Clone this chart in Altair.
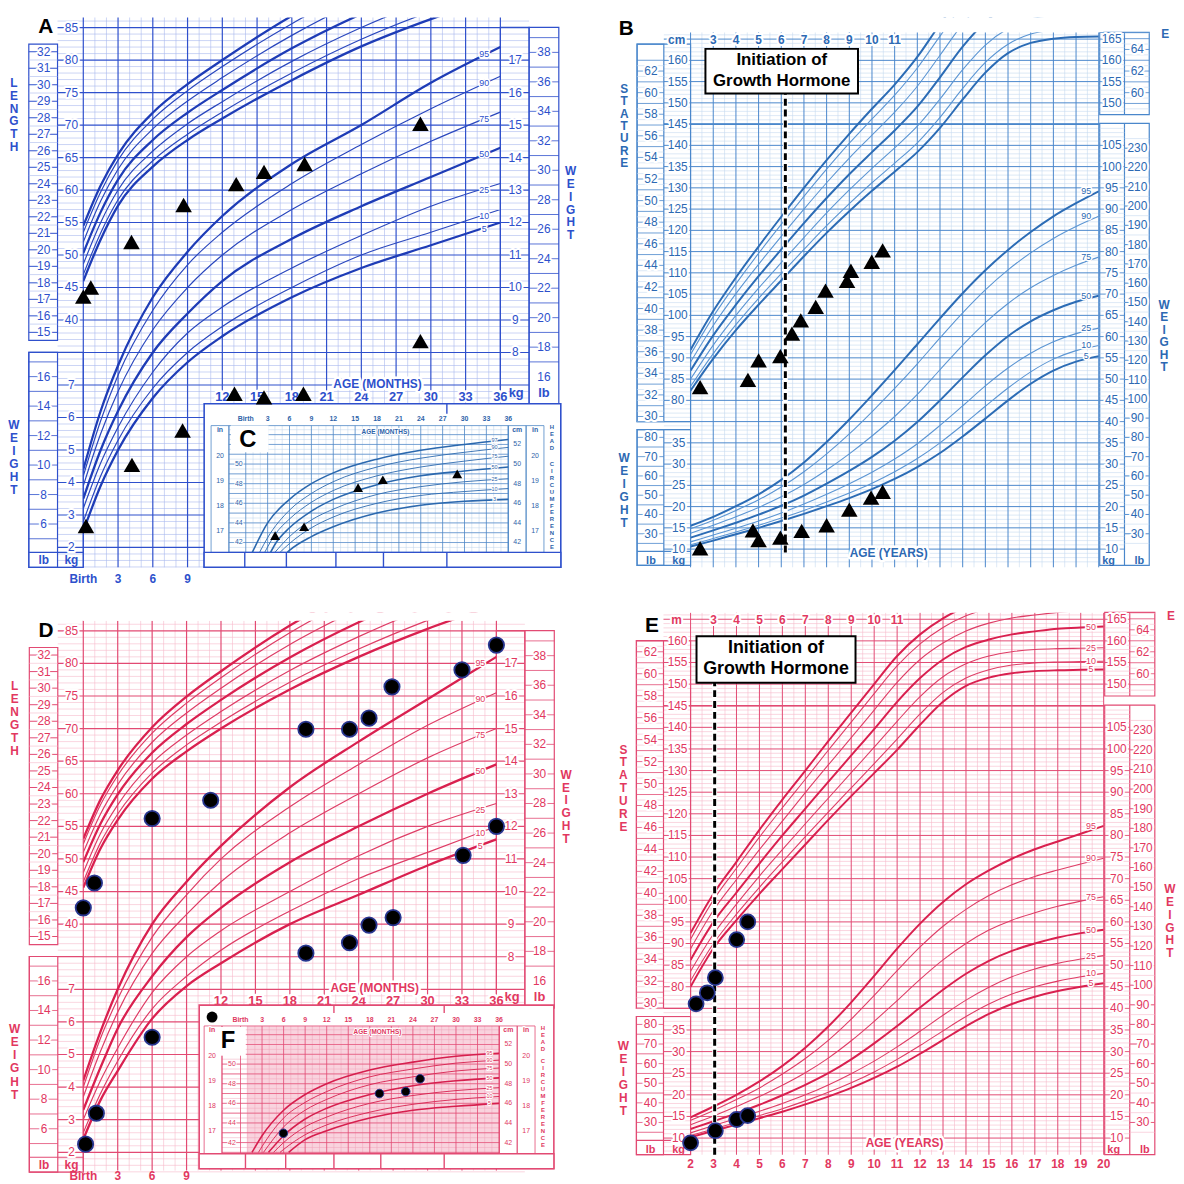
import altair as alt
import numpy as np
import pandas as pd

FONT = "Liberation Sans"

# ------------------------------------------------------------------
# Percentile curves
# ------------------------------------------------------------------
PCT = [5, 10, 25, 50, 75, 90, 95]
THICK = (5, 50, 95)

INF_AGE = [0, 1.5, 3, 6, 9, 12, 18, 24, 30, 36]  # months
BOY_LEN = {
    5:  [46.0, 52.4, 57.6, 63.6, 67.7, 71.0, 76.9, 82.1, 86.3, 89.9],
    10: [47.0, 53.4, 58.5, 64.5, 68.6, 72.0, 78.0, 83.2, 87.5, 91.1],
    25: [48.6, 55.0, 60.0, 66.0, 70.2, 73.6, 79.8, 85.0, 89.4, 93.1],
    50: [50.3, 56.6, 61.6, 67.7, 71.9, 75.4, 81.8, 87.1, 91.6, 95.3],
    75: [52.0, 58.3, 63.2, 69.4, 73.7, 77.3, 83.8, 89.3, 93.9, 97.6],
    90: [53.5, 59.7, 64.6, 70.9, 75.3, 79.0, 85.6, 91.2, 95.8, 99.6],
    95: [54.5, 60.7, 65.5, 71.9, 76.3, 80.0, 86.8, 92.4, 97.0, 100.9],
}
BOY_WT = {
    5:  [2.5, 3.9, 5.0, 6.6, 7.7, 8.5, 9.7, 10.6, 11.3, 12.0],
    10: [2.8, 4.2, 5.3, 6.9, 8.0, 8.8, 10.0, 11.0, 11.7, 12.4],
    25: [3.2, 4.6, 5.7, 7.4, 8.6, 9.4, 10.6, 11.6, 12.5, 13.2],
    50: [3.5, 5.0, 6.2, 8.0, 9.2, 10.2, 11.5, 12.5, 13.4, 14.3],
    75: [3.9, 5.5, 6.8, 8.7, 10.0, 11.0, 12.4, 13.5, 14.5, 15.4],
    90: [4.2, 5.9, 7.3, 9.3, 10.7, 11.7, 13.2, 14.4, 15.5, 16.5],
    95: [4.4, 6.2, 7.6, 9.7, 11.1, 12.2, 13.8, 15.0, 16.3, 17.4],
}
GIRL_LEN = {
    5:  [45.6, 51.6, 56.0, 62.3, 66.5, 70.0, 76.0, 81.0, 85.3, 89.0],
    10: [46.5, 52.5, 56.9, 63.2, 67.5, 71.0, 77.1, 82.2, 86.6, 90.4],
    25: [47.9, 53.9, 58.3, 64.7, 69.0, 72.6, 78.9, 84.1, 88.6, 92.5],
    50: [49.5, 55.4, 59.9, 66.3, 70.7, 74.4, 80.9, 86.3, 90.9, 94.9],
    75: [51.0, 56.9, 61.4, 67.9, 72.4, 76.2, 82.9, 88.4, 93.2, 97.3],
    90: [52.3, 58.3, 62.8, 69.3, 73.9, 77.8, 84.7, 90.4, 95.3, 99.5],
    95: [53.1, 59.1, 63.6, 70.2, 74.9, 78.8, 85.8, 91.6, 96.6, 100.8],
}
GIRL_WT = {
    5:  [2.4, 3.6, 4.5, 6.1, 7.1, 7.8, 9.0, 9.9, 10.8, 11.6],
    10: [2.6, 3.8, 4.8, 6.4, 7.4, 8.2, 9.4, 10.4, 11.2, 12.0],
    25: [3.0, 4.2, 5.2, 6.9, 8.0, 8.8, 10.0, 11.1, 12.0, 12.7],
    50: [3.3, 4.6, 5.8, 7.4, 8.6, 9.5, 10.9, 12.0, 13.0, 13.9],
    75: [3.7, 5.1, 6.3, 8.1, 9.3, 10.3, 11.8, 13.0, 14.1, 15.0],
    90: [4.0, 5.5, 6.7, 8.6, 9.9, 11.0, 12.6, 13.9, 15.1, 16.1],
    95: [4.2, 5.7, 7.0, 9.0, 10.3, 11.4, 13.2, 14.6, 15.9, 17.2],
}

CH_AGE = [2, 3, 4, 5, 6, 7, 8, 9, 10, 11, 12, 13, 14, 15, 16, 17, 18, 19, 20]  # years
BOY_STAT = {
    5:  [82.3, 89.8, 96.5, 102.5, 108.2, 113.9, 119.4, 124.5, 129.3, 133.8, 138.4, 144.1, 150.8, 157.1, 161.7, 164.1, 165.1, 165.5, 165.6],
    10: [83.3, 91.0, 97.8, 104.0, 109.8, 115.5, 121.1, 126.3, 131.2, 135.8, 140.6, 146.6, 153.4, 159.5, 163.8, 166.2, 167.2, 167.6, 167.7],
    25: [85.0, 93.0, 100.0, 106.4, 112.4, 118.3, 124.1, 129.5, 134.6, 139.4, 144.5, 150.9, 157.8, 163.6, 167.5, 169.7, 170.6, 171.0, 171.1],
    50: [87.0, 95.3, 102.5, 109.2, 115.5, 121.7, 127.6, 133.2, 138.4, 143.5, 149.1, 156.0, 163.2, 169.0, 173.0, 175.2, 176.1, 176.5, 176.8],
    75: [89.0, 97.6, 105.1, 112.0, 118.6, 125.0, 131.2, 137.0, 142.4, 147.8, 153.9, 161.2, 168.5, 174.2, 177.8, 179.9, 180.9, 181.3, 181.5],
    90: [90.8, 99.7, 107.4, 114.6, 121.4, 128.0, 134.4, 140.5, 146.2, 151.8, 158.2, 165.7, 172.9, 178.3, 181.8, 183.9, 184.8, 185.2, 185.4],
    95: [91.9, 101.0, 108.9, 116.2, 123.2, 130.0, 136.5, 142.7, 148.6, 154.3, 160.8, 168.5, 175.6, 180.8, 184.2, 186.2, 187.1, 187.5, 187.7],
}
BOY_WT2 = {
    5:  [10.6, 12.0, 13.5, 15.0, 16.6, 18.3, 20.1, 22.0, 24.1, 26.5, 29.3, 32.6, 36.5, 40.7, 45.0, 48.9, 52.0, 54.1, 55.4],
    10: [11.0, 12.5, 14.0, 15.6, 17.3, 19.1, 21.1, 23.2, 25.5, 28.2, 31.3, 35.0, 39.2, 43.6, 47.9, 51.7, 54.7, 56.7, 57.9],
    25: [11.7, 13.3, 14.9, 16.6, 18.5, 20.6, 22.9, 25.4, 28.1, 31.2, 34.8, 39.1, 43.7, 48.4, 52.6, 56.1, 58.8, 60.7, 62.0],
    50: [12.7, 14.4, 16.2, 18.1, 20.2, 22.6, 25.4, 28.4, 31.7, 35.5, 39.9, 45.0, 50.4, 55.6, 60.1, 63.6, 66.2, 68.2, 69.6],
    75: [13.7, 15.6, 17.6, 19.8, 22.3, 25.2, 28.6, 32.4, 36.6, 41.2, 46.4, 52.2, 58.0, 63.3, 67.8, 71.5, 74.4, 76.8, 78.7],
    90: [14.8, 16.8, 19.1, 21.6, 24.6, 28.2, 32.4, 37.1, 42.3, 47.8, 53.6, 59.7, 65.6, 71.0, 75.7, 79.7, 83.1, 85.9, 88.3],
    95: [15.5, 17.6, 20.1, 22.9, 26.3, 30.4, 35.2, 40.5, 46.2, 52.1, 58.2, 64.3, 70.2, 75.6, 80.4, 84.6, 88.3, 91.4, 94.2],
}
GIRL_STAT = {
    5:  [80.0, 88.9, 95.4, 101.5, 107.2, 112.9, 118.6, 124.1, 129.4, 134.8, 140.6, 145.9, 149.6, 151.5, 152.5, 153.0, 153.2, 153.3, 153.4],
    10: [81.4, 90.0, 96.8, 103.0, 108.9, 114.7, 120.4, 126.0, 131.6, 137.3, 143.1, 148.1, 151.4, 153.3, 154.4, 154.9, 155.1, 155.2, 155.3],
    25: [83.6, 92.2, 99.1, 105.6, 111.7, 117.7, 123.6, 129.5, 135.4, 141.4, 147.1, 151.7, 154.7, 156.5, 157.5, 158.0, 158.2, 158.3, 158.4],
    50: [86.2, 95.0, 101.8, 108.5, 115.0, 121.2, 127.4, 133.5, 139.6, 145.9, 151.4, 155.7, 158.6, 160.3, 161.5, 162.2, 162.8, 163.1, 163.3],
    75: [88.8, 97.7, 104.8, 111.7, 118.3, 124.9, 131.3, 137.6, 144.0, 150.4, 155.7, 159.5, 162.3, 164.1, 165.3, 166.0, 166.6, 167.0, 167.3],
    90: [91.0, 100.1, 107.4, 114.6, 121.4, 128.0, 134.7, 141.2, 147.8, 154.2, 159.3, 163.1, 165.8, 167.5, 168.7, 169.4, 170.0, 170.4, 170.7],
    95: [92.4, 101.5, 108.9, 116.3, 123.3, 130.0, 136.8, 143.4, 150.0, 156.5, 161.5, 165.2, 167.9, 169.6, 170.8, 171.5, 172.1, 172.5, 172.8],
}
GIRL_WT2 = {
    5:  [10.2, 11.7, 13.1, 14.6, 16.1, 17.8, 19.6, 21.6, 23.9, 26.5, 29.5, 32.7, 35.9, 38.7, 41.0, 42.7, 44.0, 45.0, 45.8],
    10: [10.6, 12.1, 13.6, 15.2, 16.8, 18.6, 20.6, 22.8, 25.3, 28.2, 31.4, 34.8, 38.1, 41.0, 43.3, 45.0, 46.3, 47.3, 48.1],
    25: [11.2, 12.9, 14.5, 16.2, 18.0, 20.0, 22.3, 24.9, 27.8, 31.1, 34.7, 38.4, 41.9, 44.9, 47.3, 49.1, 50.4, 51.4, 52.2],
    50: [12.1, 13.9, 15.7, 17.7, 19.9, 22.3, 25.0, 28.2, 31.9, 35.9, 40.2, 44.3, 48.0, 51.0, 53.3, 55.0, 56.4, 57.4, 58.2],
    75: [13.1, 15.1, 17.3, 19.6, 22.2, 25.1, 28.5, 32.5, 37.0, 41.8, 46.7, 51.2, 55.0, 58.1, 60.4, 62.1, 63.6, 64.8, 65.8],
    90: [14.1, 16.4, 18.9, 21.6, 24.8, 28.4, 32.6, 37.5, 43.0, 48.7, 54.2, 59.0, 62.9, 66.1, 68.6, 70.5, 72.0, 73.4, 74.7],
    95: [14.8, 17.3, 20.0, 23.1, 26.7, 30.9, 35.8, 41.4, 47.5, 53.8, 59.6, 64.6, 68.7, 71.9, 74.6, 76.8, 78.6, 80.4, 82.2],
}

# head circumference (insets C and F): (months, cm) from where each curve enters the printed box
HC_PCT_BOY = [3, 10, 25, 50, 75, 90, 97]
BOY_HC = {
    97: ([0.9, 3, 6, 9, 12, 18, 24, 30, 36], [41.0, 44.0, 46.4, 48.0, 49.1, 50.5, 51.4, 52.0, 52.5]),
    90: ([1.9, 3, 6, 9, 12, 18, 24, 30, 36], [41.0, 42.5, 45.3, 47.0, 48.2, 49.7, 50.6, 51.2, 51.7]),
    75: ([2.6, 4, 6, 9, 12, 18, 24, 30, 36], [41.0, 42.8, 44.4, 46.1, 47.3, 48.8, 49.7, 50.3, 50.8]),
    50: ([3.4, 4, 6, 9, 12, 18, 24, 30, 36], [41.0, 41.8, 43.5, 45.2, 46.4, 47.9, 48.8, 49.3, 49.7]),
    25: ([4.0, 6, 9, 12, 18, 24, 30, 36], [41.0, 42.6, 44.3, 45.4, 46.9, 47.7, 48.2, 48.5]),
    10: ([4.7, 6, 9, 12, 18, 24, 30, 36], [41.0, 41.9, 43.5, 44.6, 46.0, 46.8, 47.2, 47.5]),
    3:  ([5.7, 6, 9, 12, 18, 24, 30, 36], [41.0, 41.2, 42.6, 43.6, 45.0, 45.8, 46.2, 46.4]),
}
HC_PCT_GIRL = [5, 10, 25, 50, 75, 90, 95]
GIRL_HC = {
    95: ([1.6, 3, 6, 9, 12, 18, 24, 30, 36], [41.0, 42.7, 45.3, 46.9, 48.0, 49.4, 50.2, 50.8, 51.1]),
    90: ([2.5, 3, 6, 9, 12, 18, 24, 30, 36], [41.0, 41.6, 44.5, 46.1, 47.2, 48.7, 49.5, 50.1, 50.4]),
    75: ([3.2, 6, 9, 12, 18, 24, 30, 36], [41.0, 43.6, 45.3, 46.4, 47.9, 48.7, 49.3, 49.6]),
    50: ([3.9, 6, 9, 12, 18, 24, 30, 36], [41.0, 42.7, 44.4, 45.5, 46.9, 47.8, 48.3, 48.6]),
    25: ([4.6, 6, 9, 12, 18, 24, 30, 36], [41.0, 42.0, 43.6, 44.6, 46.0, 46.8, 47.3, 47.6]),
    10: ([5.5, 6, 9, 12, 18, 24, 30, 36], [41.0, 41.3, 42.8, 43.8, 45.1, 45.9, 46.4, 46.7]),
    5:  ([6.7, 9, 12, 18, 24, 30, 36], [41.0, 42.3, 43.2, 44.5, 45.3, 45.7, 46.0]),
}

# ------------------------------------------------------------------
# Patient measurements
# ------------------------------------------------------------------
A_LEN_AGE = [0.0, 0.65, 4.16, 8.66, 13.2, 15.6, 19.1, 29.1]
A_LEN_CM = [43.6, 45.0, 52.0, 57.7, 60.9, 62.8, 64.0, 70.2]
A_WT_AGE = [0.23, 4.2, 8.57, 13.05, 15.6, 19.0, 29.1]
A_WT_KG = [2.66, 4.54, 5.6, 6.73, 6.62, 6.73, 8.35]
C_AGE = [4.03, 8.0, 15.4, 18.8, 29.0]
C_HC = [42.7, 43.6, 47.6, 48.4, 49.0]

B_STAT_AGE = [2.42, 4.53, 5.0, 5.96, 6.47, 6.86, 7.52, 7.95, 8.9, 9.07, 9.99, 10.47]
B_STAT_CM = [83.1, 84.8, 89.4, 90.4, 95.7, 98.8, 102.0, 105.8, 108.1, 110.5, 112.6, 115.3]
B_WT_AGE = [2.42, 4.75, 5.0, 5.96, 6.9, 8.0, 9.0, 9.96, 10.47]
B_WT_KG = [10.2, 14.4, 12.1, 12.7, 14.3, 15.6, 19.3, 22.1, 23.5]
B_GH_AGE = 6.18

D_LEN_AGE = [0.0, 0.97, 6.0, 11.1, 19.4, 23.2, 24.9, 26.9, 33.0, 36.0]
D_LEN_CM = [42.5, 46.3, 56.2, 59.0, 69.9, 69.9, 71.6, 76.4, 79.0, 82.8]
D_WT_AGE = [0.2, 1.14, 6.0, 19.4, 23.2, 24.9, 27.0, 33.1, 36.0]
D_WT_KG = [2.25, 3.2, 5.53, 8.11, 8.43, 8.97, 9.2, 11.11, 12.0]
F_AGE = [5.97, 19.35, 23.0, 25.0]
F_HC = [42.95, 47.0, 47.2, 48.5]

E_STAT_AGE = [2.24, 2.73, 3.08, 4.01, 4.49]
E_STAT_CM = [76.05, 78.6, 82.1, 90.9, 95.0]
E_WT_AGE = [2.0, 3.08, 4.01, 4.49]
E_WT_KG = [8.9, 11.7, 14.3, 15.2]
E_GH_AGE = 3.05

# ------------------------------------------------------------------
# Colours
# ------------------------------------------------------------------
BLUE_A = dict(major='#2f50cc', minor='#a9b8ee', text='#2d50cc', curve='#1e3cb6', curve_thin='#2a47bd',
              inset_major='#4e86c6', inset_minor='#bcd3ea', inset_text='#2e63a9', inset_curve='#2b68ae')
BLUE_B = dict(major='#4a87cb', minor='#c6daef', text='#2c69b3', curve='#2c6cb5', curve_thin='#5b95d3')
PINK = dict(major='#e24a73', minor='#f6b9ca', text='#e2385f', curve='#d9204f', curve_thin='#de3d66',
            inset_major='#e24a73', inset_minor='#f0a3b9', inset_text='#e0385f', inset_curve='#d61f4e')


class Panel:
    def __init__(self, ox, oy, w, h, xdom, ydom):
        self.ox, self.oy, self.w, self.h = ox, oy, w, h
        self.xdom, self.ydom = list(xdom), list(ydom)
        self.xs = alt.Scale(domain=self.xdom, nice=False, zero=False)
        self.ys = alt.Scale(domain=self.ydom, nice=False, zero=False)
        self.layers = []

    def vx(self, px):
        return self.xdom[0] + (np.asarray(px, float) - self.ox) * (self.xdom[1] - self.xdom[0]) / self.w

    def vy(self, py):
        return self.ydom[1] - (np.asarray(py, float) - self.oy) * (self.ydom[1] - self.ydom[0]) / self.h

    def X(self, f='x'):
        return alt.X(f + ':Q', scale=self.xs, axis=None)

    def Y(self, f='y'):
        return alt.Y(f + ':Q', scale=self.ys, axis=None)

    def chart(self):
        return alt.layer(*self.layers).properties(width=self.w, height=self.h)


def vals(v):
    return [float(a) for a in np.atleast_1d(np.asarray(v, dtype=float))]


def hrules(P, ys, x1, x2, color, sw, dash=None):
    ys = vals(ys)
    df = pd.DataFrame({'y': ys, 'x1': [float(x1)] * len(ys), 'x2': [float(x2)] * len(ys)})
    mk = dict(color=color, strokeWidth=sw)
    if dash:
        mk['strokeDash'] = dash
    P.layers.append(alt.Chart(df).mark_rule(**mk).encode(y=P.Y('y'), x=P.X('x1'), x2=alt.X2('x2')))


def vrules(P, xs, y1, y2, color, sw, dash=None):
    xs = vals(xs)
    df = pd.DataFrame({'x': xs, 'y1': [float(y1)] * len(xs), 'y2': [float(y2)] * len(xs)})
    mk = dict(color=color, strokeWidth=sw)
    if dash:
        mk['strokeDash'] = dash
    P.layers.append(alt.Chart(df).mark_rule(**mk).encode(x=P.X('x'), y=P.Y('y1'), y2=alt.Y2('y2')))


def rect(P, boxes, fill=None, stroke=None, sw=1.0):
    df = pd.DataFrame([[float(v) for v in b] for b in boxes], columns=['x1', 'x2', 'y1', 'y2'])
    mk = {}
    if fill:
        mk.update(fill=fill, fillOpacity=1)
    else:
        mk.update(fillOpacity=0)
    if stroke:
        mk.update(stroke=stroke, strokeWidth=sw)
    P.layers.append(alt.Chart(df).mark_rect(**mk).encode(
        x=P.X('x1'), x2=alt.X2('x2'), y=P.Y('y1'), y2=alt.Y2('y2')))


def texts(P, xs, ys, ts, size=12, color='black', bold=False, halo=0, align='center', baseline='middle'):
    ts = [str(t) for t in ts]
    n = len(ts)
    xs, ys = vals(xs), vals(ys)
    if len(xs) == 1:
        xs = xs * n
    if len(ys) == 1:
        ys = ys * n
    df = pd.DataFrame({'x': xs, 'y': ys, 't': ts})
    base = dict(fontSize=size, font=FONT, fontWeight='bold' if bold else 'normal', align=align, baseline=baseline)
    enc = dict(x=P.X('x'), y=P.Y('y'), text=alt.Text('t:N'))
    if halo:
        P.layers.append(alt.Chart(df).mark_text(color='white', stroke='white', strokeWidth=halo,
                                                strokeJoin='round', **base).encode(**enc))
    P.layers.append(alt.Chart(df).mark_text(color=color, **base).encode(**enc))


def curves(P, rows, color, clip=True):
    df = pd.DataFrame(rows, columns=['x', 'y', 'g', 'w'])
    P.layers.append(alt.Chart(df).mark_line(color=color, interpolate='monotone', clip=clip).encode(
        x=P.X('x'), y=P.Y('y'), detail='g:N',
        strokeWidth=alt.StrokeWidth('w:Q', scale=None, legend=None)))


def points(P, xs, ys, shape, size, stroke=None, sw=0):
    df = pd.DataFrame({'x': vals(xs), 'y': vals(ys)})
    mk = dict(shape=shape, size=size, filled=True, color='black', opacity=1)
    if stroke:
        mk.update(stroke=stroke, strokeWidth=sw)
    P.layers.append(alt.Chart(df).mark_point(**mk).encode(x=P.X('x'), y=P.Y('y')))


def stack(P, word, x, ys, color, size=12):
    texts(P, [x], ys, list(word), size=size, color=color, bold=True)


# ------------------------------------------------------------------
# Inset: head circumference chart
# ------------------------------------------------------------------
def inset(P, th, sp, tab, pcts, thick, ages, hcs, shape, msize, mstroke=None):
    ix = lambda m: P.vx(sp['m0'] + sp['mpx'] * np.asarray(m, float))
    iy = lambda c: P.vy(sp['c52'] + (52.0 - np.asarray(c, float)) * sp['cpx'])
    X = lambda px: float(P.vx(px))
    Yp = lambda py: float(P.vy(py))
    bx1, bx2, by1, by2 = sp['box']
    gx1, gx2, gy1, gy2 = sp['grid']
    rect(P, [(X(bx1), X(bx2), Yp(by1), Yp(by2))], fill='white', stroke=th['major'], sw=1.6)
    if sp.get('fill'):
        rect(P, [(X(sp['fill'][0]), X(sp['fill'][1]), Yp(gy1), Yp(gy2))], fill=sp['fillc'])
    cm_lo = 52 - (gy2 - sp['c52']) / sp['cpx']
    cm_hi = 52 + (sp['c52'] - gy1) / sp['cpx']
    vrules(P, ix([m for m in range(37) if m % 3]), Yp(gy2), Yp(gy1), th['inset_minor'], 0.5)
    hrules(P, iy(np.arange(np.ceil(cm_lo * 2) / 2, cm_hi, 0.5)), X(gx1), X(gx2), th['inset_minor'], 0.5)
    hrules(P, iy(range(int(np.ceil(cm_lo)), int(cm_hi) + 1)), X(gx1), X(gx2), th['inset_major'], 0.7)
    vrules(P, ix(range(0, 37, 3)), Yp(gy2), Yp(gy1), th['inset_major'], 0.8)
    cols = [(X(sp['inL'][0]), X(sp['inL'][1]), Yp(gy1), Yp(gy2)),
            (X(sp['cmR'][0]), X(sp['cmR'][1]), Yp(gy1), Yp(gy2)),
            (X(sp['inR'][0]), X(sp['inR'][1]), Yp(gy1), Yp(gy2)),
            (X(gx1), X(gx2), Yp(gy1), Yp(gy2))]
    rect(P, cols, stroke=th['inset_major'], sw=0.8)
    rect(P, [(X(bx1), X(bx2), Yp(sp['bottom'][0]), Yp(sp['bottom'][1]))], fill='white', stroke=th['major'], sw=1.4)
    vrules(P, [X(s) for s in sp['seps']], Yp(sp['bottom'][1]), Yp(sp['bottom'][0]), th['major'], 1.4)
    vrules(P, [X(s) for s in sp['top_seps']], Yp(sp['top_sep_y'][1]), Yp(sp['top_sep_y'][0]), th['major'], 1.4)
    rows = []
    for p in pcts:
        ms, vs = tab[p]
        for m, v in zip(ms, vs):
            rows.append((float(ix(m)), float(iy(v)), 'H%d' % p, 1.6 if p in thick else 0.9))
    curves(P, rows, th['inset_curve'], clip=False)
    lb = sp['letter_box']
    rect(P, [(X(lb[0]), X(lb[1]), Yp(lb[2]), Yp(lb[3]))], fill='white')
    texts(P, [X(sp['letter_xy'][0])], [Yp(sp['letter_xy'][1])], [sp['letter']], size=24, bold=True)
    tc = th['inset_text']
    ins = [17, 18, 19, 20]
    texts(P, [X(sp['inL_x'])], iy(np.array(ins) * 2.54), ins, size=7, color=tc, halo=2)
    texts(P, [X(sp['inR_x'])], iy(np.array(ins) * 2.54), ins, size=7, color=tc, halo=2)
    texts(P, [X(sp['cmL_x'])], iy([42, 44, 46, 48, 50]), [42, 44, 46, 48, 50], size=7, color=tc, halo=2)
    texts(P, [X(sp['cmR_x'])], iy([42, 44, 46, 48, 50, 52]), [42, 44, 46, 48, 50, 52], size=7, color=tc, halo=2)
    texts(P, [X(sp['inL_x']), X(sp['cmR_x']), X(sp['inR_x'])], [Yp(sp['hdr_y'])], ['in', 'cm', 'in'],
          size=7, color=tc, bold=True, halo=2)
    tops = list(range(0, 37, 3))
    texts(P, ix(tops), [Yp(sp['top_y'])], ['Birth'] + [str(t) for t in tops[1:]], size=7, color=tc, bold=True)
    texts(P, [X(sp['age'][0])], [Yp(sp['age'][1])], ['AGE (MONTHS)'], size=6.5, color=tc, bold=True, halo=2)
    hx = X(sp['head_x'])
    h0, hs, c0, cs = sp['head_y']
    stack(P, 'HEAD', hx, [Yp(h0 + hs * i) for i in range(4)], tc, size=6)
    stack(P, 'CIRCUMFERENCE', hx, [Yp(c0 + cs * i) for i in range(13)], tc, size=6)
    texts(P, [X(sp['pct_x'])], iy([tab[p][1][-1] for p in pcts]), pcts, size=5.5, color=tc, halo=2)
    if sp.get('dot'):
        points(P, [X(sp['dot'][0])], [Yp(sp['dot'][1])], 'circle', 120)
    points(P, ix(ages), iy(hcs), shape, msize, stroke=mstroke, sw=1)


C_SPEC = dict(box=(205, 565, 400, 565), grid=(230, 512, 422, 550),
              m0=247.0, mpx=7.36, c52=441.0, cpx=9.9,
              inL=(212, 230), inL_x=221, cmL_x=240, cmR=(512, 530), cmR_x=521, inR=(530, 548), inR_x=539,
              hdr_y=426, top_y=415, age=(388, 428), head_x=556, head_y=(423.3, 7.2, 460.7, 7.0),
              bottom=(550, 565), seps=(246, 288, 338, 386, 450), top_seps=(450,), top_sep_y=(400, 410),
              letter='C', letter_box=(232, 270, 422, 449), letter_xy=(249, 437), pct_x=498)
F_SPEC = dict(box=(200, 558, 1007, 1172), grid=(223, 503, 1028, 1157), fill=(248, 503), fillc='#f9d3de',
              m0=241.7, mpx=7.25, c52=1046.7, cpx=9.9,
              inL=(205, 223), inL_x=213, cmL_x=233, cmR=(503, 521), cmR_x=512, inR=(521, 539), inR_x=530,
              hdr_y=1032, top_y=1021.7, age=(380, 1034), head_x=547, head_y=(1030, 7.2, 1063.3, 7.08),
              bottom=(1157, 1172), seps=(246.7, 287.3, 336, 383.3, 447.3), top_seps=(336, 447.3),
              top_sep_y=(1007, 1015), letter='F', letter_box=(218, 247, 1029, 1058), letter_xy=(229, 1043),
              pct_x=493, dot=(213, 1019))


# ------------------------------------------------------------------
# Birth-36 months panel (A, D)
# ------------------------------------------------------------------
def infant_panel(P, T, th, len_tab, wt_tab, len_age, len_cm, wt_age, wt_kg, shape, msize, mstroke,
                 letter, inset_args, bottom_y):
    cm2 = lambda c: np.asarray(c, float) / 5.0 + 1.0          # length cm on the kg grid
    in2 = lambda i: cm2(np.asarray(i, float) * 2.54)
    lb2 = lambda l: np.asarray(l, float) / 2.20462
    top, bot = 18.31, P.ydom[0]
    xl, xr = float(T.vx(57)), float(T.vx(533))
    c, tc = th['major'], th['text']
    vrules(P, [m for m in range(37) if m % 3], bot, top, th['minor'], 0.6)
    hmin = [v for v in np.arange(1.4, 18.31, 0.2) if abs(v - round(v)) > 0.05]
    hrules(P, hmin, xl, xr, th['minor'], 0.6)
    hrules(P, list(range(2, 19)), xl, xr, c, 1.2)
    vrules(P, list(range(0, 37, 3)), bot, top, c, 1.2)
    rect(P, [(T.vx(28), T.vx(57), T.vy(37), T.vy(336))], fill='white', stroke=c, sw=1.2)
    hrules(P, in2(np.arange(15.5, 32.5, 1.0)), T.vx(28), T.vx(57), th['minor'], 0.6)
    hrules(P, in2(range(15, 33)), T.vx(28), T.vx(57), c, 1.0)
    rect(P, [(T.vx(28), T.vx(57), T.vy(348), T.vy(565))], fill='white', stroke=c, sw=1.2)
    rect(P, [(T.vx(28), T.vx(83), T.vy(348), T.vy(565))], stroke=c, sw=1.2)
    hrules(P, lb2(range(5, 18)), T.vx(28), T.vx(57), c, 0.8)
    hrules(P, [T.vy(550)], T.vx(28), T.vx(83), c, 1.2)
    rect(P, [(T.vx(533), T.vx(563), T.vy(20), T.vy(400))], fill='white', stroke=c, sw=1.2)
    rect(P, [(T.vx(504), T.vx(533), T.vy(20), T.vy(400))], stroke=c, sw=1.2)
    hrules(P, lb2(range(17, 40)), T.vx(533), T.vx(563), c, 0.8)
    thin, thick = [], []
    for p in PCT:
        dst = thick if p in THICK else thin
        w = 2.3 if p in THICK else 1.2
        for a, v in zip(INF_AGE, len_tab[p]):
            dst.append((a, float(cm2(v)), 'L%d' % p, w))
        for a, v in zip(INF_AGE, wt_tab[p]):
            dst.append((a, v, 'W%d' % p, w))
    curves(P, thin, th['curve_thin'])
    curves(P, thick, th['curve'])
    if P.ydom[1] > top + 0.01:
        rect(P, [(P.xdom[0], P.xdom[1], top, P.ydom[1])], fill='white')
    texts(P, [T.vx(45)], [T.vy(20)], [letter], size=21, bold=True)
    stack(P, 'LENGTH', T.vx(13), [T.vy(76 + 13 * i) for i in range(6)], tc)
    stack(P, 'WEIGHT', T.vx(13), [T.vy(421 + 13.2 * i) for i in range(6)], tc)
    stack(P, 'WEIGHT', T.vx(575), [T.vy(165 + 13 * i) for i in range(6)], tc)
    ins = list(range(15, 33))
    texts(P, [T.vx(43)], in2(ins), ins, color=tc, halo=4)
    cms = list(range(40, 90, 5))
    texts(P, [T.vx(71)], cm2(cms), cms, color=tc, halo=4)
    lbs = list(range(6, 17, 2))
    texts(P, [T.vx(43)], lb2(lbs), lbs, color=tc, halo=4)
    kgs = list(range(2, 8))
    texts(P, [T.vx(71)], kgs, kgs, color=tc, halo=4)
    texts(P, [T.vx(43), T.vx(71)], [T.vy(558)], ['lb', 'kg'], size=12, color=tc, bold=True)
    rk = list(range(8, 18))
    texts(P, [T.vx(519)], rk, rk, color=tc, halo=4)
    rl = list(range(16, 39, 2))
    texts(P, [T.vx(548)], lb2(rl), rl, color=tc, halo=4)
    texts(P, [T.vx(520), T.vx(548)], [T.vy(389)], ['kg', 'lb'], size=13, color=tc, bold=True)
    texts(P, [0, 3, 6, 9], [bottom_y], ['Birth', '3', '6', '9'], size=12, color=tc, bold=True)
    mids = list(range(12, 37, 3))
    texts(P, mids, [T.vy(393)], mids, size=13, color=tc, bold=True, halo=5)
    texts(P, [T.vx(380)], [T.vy(380)], ['AGE (MONTHS)'], size=12, color=tc, bold=True, halo=5)
    texts(P, [34.6], [wt_tab[p][-1] - 0.2 for p in PCT], PCT, size=9, color=tc, halo=3)
    inset(P, th, *inset_args)
    points(P, len_age, cm2(len_cm), shape, msize, stroke=mstroke, sw=1.8)
    points(P, wt_age, wt_kg, shape, msize, stroke=mstroke, sw=1.8)


# ------------------------------------------------------------------
# 2-20 years panel (B, E)
# ------------------------------------------------------------------
def child_panel(P, T, th, stat_tab, wt_tab, s_age, s_cm, w_age, w_kg, shape, msize, mstroke, pos):
    kg2 = lambda k: np.asarray(k, float) + 35.0               # weight kg on the stature grid
    lb2 = lambda l: np.asarray(l, float) / 2.20462 + 35.0
    in2 = lambda i: np.asarray(i, float) * 2.54
    top, bot = pos['top'], P.ydom[0]
    c, tc = th['major'], th['text']
    xl = float(T.vx(670))
    vrules(P, np.arange(2.5, 20, 1.0), bot, top, th['minor'], 0.6)
    hrules(P, [v for v in range(42, 167) if v % 5 and v < top], xl, 20, th['minor'], 0.6)
    hrules(P, list(range(45, 166, 5)), xl, 20, c, 1.0)
    vrules(P, list(range(2, 21)), bot, top, c, 1.0)
    hrules(P, [145], xl, T.vx(1160), c, 1.6)
    lu = pos['lu_top']
    rect(P, [(T.vx(643), T.vx(670), lu, T.vy(418)), (T.vx(643), T.vx(670), T.vy(426), T.vy(563))],
         fill='white', stroke=c, sw=1.2)
    rect(P, [(T.vx(643), T.vx(697), lu, T.vy(418)), (T.vx(643), T.vx(697), T.vy(426), T.vy(563))],
         stroke=c, sw=1.2)
    hrules(P, [T.vy(549)], T.vx(643), T.vx(697), c, 1.2)
    hrules(P, in2(np.arange(29.5, 63.5, 1.0)), T.vx(643), T.vx(670), th['minor'], 0.6)
    hrules(P, in2(range(30, 64)), T.vx(643), T.vx(670), c, 0.8)
    hrules(P, lb2(range(25, 85, 5)), T.vx(643), T.vx(670), c, 0.8)
    rect(P, [(T.vx(1110), T.vx(1160), T.vy(25), T.vy(108)), (T.vx(1110), T.vx(1160), T.vy(117), T.vy(563))],
         fill='white', stroke=c, sw=1.2)
    vrules(P, [T.vx(1135)], T.vy(108), T.vy(25), c, 1.2)
    vrules(P, [T.vx(1135)], T.vy(563), T.vy(117), c, 1.2)
    hrules(P, [v for v in range(148, 167) if v % 5], T.vx(1110), T.vx(1135), th['minor'], 0.6)
    hrules(P, [150, 155, 160, 165], T.vx(1110), T.vx(1135), c, 0.9)
    hrules(P, in2(np.arange(58.5, 65.6, 1.0)), T.vx(1135), T.vx(1160), th['minor'], 0.6)
    hrules(P, in2(range(59, 66)), T.vx(1135), T.vx(1160), c, 0.8)
    hrules(P, kg2([v for v in range(11, 110) if v % 5]), T.vx(1110), T.vx(1135), th['minor'], 0.6)
    hrules(P, kg2(range(10, 110, 5)), T.vx(1110), T.vx(1135), c, 0.9)
    hrules(P, lb2(range(25, 240, 5)), T.vx(1135), T.vx(1160), th['minor'], 0.6)
    hrules(P, lb2(range(30, 240, 10)), T.vx(1135), T.vx(1160), c, 0.9)
    thin, thick = [], []
    for p in PCT:
        dst = thick if p in THICK else thin
        w = 2.0 if p in THICK else 1.1
        for a, v in zip(CH_AGE, stat_tab[p]):
            dst.append((a, v, 'S%d' % p, w))
        for a, v in zip(CH_AGE, wt_tab[p]):
            dst.append((a, float(kg2(v)), 'W%d' % p, w))
    curves(P, thin, th['curve_thin'])
    curves(P, thick, th['curve'])
    if P.ydom[1] > top + 0.05:
        rect(P, [(xl, 20.2, top, P.ydom[1])], fill='white')
    texts(P, [pos['letter'][0]], [pos['letter'][1]], [pos['letter'][2]], size=21, bold=True)
    texts(P, [pos['corner'][0]], [pos['corner'][1]], ['E'], size=12, color=tc, bold=True)
    stack(P, 'STATURE', T.vx(630), pos['stat_y'], tc)
    stack(P, 'WEIGHT', T.vx(630), [T.vy(455 + 13 * i) for i in range(6)], tc)
    stack(P, 'WEIGHT', T.vx(1175), [T.vy(300 + 12.6 * i) for i in range(6)], tc)
    li = list(range(30, 63, 2))
    texts(P, [T.vx(657)], in2(li), li, color=tc, halo=4)
    lc = list(range(80, 161, 5))
    texts(P, [T.vx(684)], lc, lc, color=tc, halo=4)
    ages = list(range(3, 12))
    texts(P, [T.vx(683)] + ages, [T.vy(33)], [pos['unit']] + ages, size=12, color=tc, bold=True, halo=4)
    ll = list(range(30, 81, 10))
    texts(P, [T.vx(657)], lb2(ll), ll, color=tc, halo=4)
    lk = list(range(10, 36, 5))
    texts(P, [T.vx(685)], kg2(lk), lk, color=tc, halo=4)
    uy = pos['unit_y']
    texts(P, [T.vx(657), T.vx(685)], [uy], ['lb', 'kg'], size=11, color=tc, bold=True)
    texts(P, [T.vx(1122)], [150, 155, 160, 165], [150, 155, 160, 165], color=tc, halo=4)
    texts(P, [T.vx(1148)], in2([60, 62, 64]), [60, 62, 64], color=tc, halo=4)
    rk = list(range(10, 106, 5))
    texts(P, [T.vx(1122)], kg2(rk), rk, color=tc, halo=4)
    rl = list(range(30, 231, 10))
    texts(P, [T.vx(1148)], lb2(rl), rl, color=tc, halo=4)
    texts(P, [T.vx(1119), T.vx(1150)], [uy], ['kg', 'lb'], size=11, color=tc, bold=True)
    texts(P, [pos['age'][0]], [pos['age'][1]], ['AGE (YEARS)'], size=12, color=tc, bold=True, halo=5)
    if pos.get('bottom_y') is not None:
        bl = list(range(2, 21))
        texts(P, bl, [pos['bottom_y']], bl, size=12, color=tc, bold=True)
    texts(P, [19.45], [wt_tab[p][-1] + 35 for p in PCT], PCT, size=9, color=tc, halo=3)
    sv = [p for p in PCT if stat_tab[p][-1] < top - 1]
    texts(P, [19.45], [stat_tab[p][-1] for p in sv], sv, size=9, color=tc, halo=3)
    bx1, bx2, byt, byb = pos['box']
    vrules(P, [pos['gh']], pos['dash_bot'], byb, 'white', 5)
    vrules(P, [pos['gh']], pos['dash_bot'], byb, 'black', 3, dash=[7, 4])
    rect(P, [(bx1, bx2, byt, byb)], fill='white', stroke='black', sw=2)
    texts(P, [(bx1 + bx2) / 2], pos['box_text_y'], ['Initiation of', 'Growth Hormone'],
          size=pos['box_size'], bold=True)
    points(P, s_age, s_cm, shape, msize, stroke=mstroke, sw=1.8)
    points(P, w_age, kg2(w_kg), shape, msize, stroke=mstroke, sw=1.8)


# ------------------------------------------------------------------
A = Panel(83, 10, 421, 555, [0, 36], [1.390, 18.311])
B = Panel(697, 10, 412, 555, [2, 20], [40.72, 170.09])
D = Panel(83, 611, 417, 563, [0, 36], [1.438, 18.55])
E = Panel(691, 611, 417, 547, [2, 20], [41.14, 166.48])

infant_panel(A, A, BLUE_A, BOY_LEN, BOY_WT, A_LEN_AGE, A_LEN_CM, A_WT_AGE, A_WT_KG,
             'triangle-up', 280, None, 'A',
             (C_SPEC, BOY_HC, HC_PCT_BOY, (3, 50, 97), C_AGE, C_HC, 'triangle-up', 100), A.vy(577))
infant_panel(D, A, PINK, GIRL_LEN, GIRL_WT, D_LEN_AGE, D_LEN_CM, D_WT_AGE, D_WT_KG,
             'circle', 240, '#27358f', 'D',
             (F_SPEC, GIRL_HC, HC_PCT_GIRL, (5, 50, 95), F_AGE, F_HC, 'circle', 75, '#27358f'), D.vy(1179))

child_panel(B, B, BLUE_B, BOY_STAT, BOY_WT2, B_STAT_AGE, B_STAT_CM, B_WT_AGE, B_WT_KG,
            'triangle-up', 280, None,
            dict(top=float(B.vy(25)), lu_top=float(B.vy(37)), unit='cm', unit_y=float(B.vy(559)),
                 letter=(float(B.vx(632)), float(B.vy(22)), 'B'), corner=(float(B.vx(1176)), float(B.vy(27))),
                 stat_y=[float(B.vy(82 + 12.5 * i)) for i in range(7)],
                 age=(float(B.vx(897)), float(B.vy(551))), bottom_y=None,
                 box=(float(B.vx(712)), float(B.vx(866)), float(B.vy(41.7)), float(B.vy(86.7))),
                 box_text_y=[float(B.vy(53.3)), float(B.vy(74))], box_size=17,
                 gh=B_GH_AGE, dash_bot=float(B.vy(550))))
child_panel(E, B, PINK, GIRL_STAT, GIRL_WT2, E_STAT_AGE, E_STAT_CM, E_WT_AGE, E_WT_KG,
            'circle', 230, '#27358f',
            dict(top=E.ydom[1], lu_top=float(E.vy(639)), unit='m', unit_y=float(E.vy(1153)),
                 letter=(float(E.vx(652)), float(E.vy(624)), 'E'), corner=(float(E.vx(1176)), float(E.vy(614))),
                 stat_y=[float(E.vy(749 + 13 * i)) for i in range(7)],
                 age=(float(E.vx(907)), float(E.vy(1146))), bottom_y=float(E.vy(1167)),
                 box=(float(E.vx(697)), float(E.vx(857.5)), float(E.vy(634.5)), float(E.vy(681.5))),
                 box_text_y=[float(E.vy(646.8)), float(E.vy(667.4))], box_size=18,
                 gh=E_GH_AGE, dash_bot=E.ydom[0]))

chart = alt.concat(A.chart(), B.chart(), D.chart(), E.chart(), columns=2,
                   spacing={'row': 46, 'column': 192}, bounds='flush', align='none').properties(
    padding={'left': 0, 'top': 2, 'right': 0, 'bottom': 0}, background='white'
).configure_view(strokeWidth=0)

chart.save('out.html', embed_options={'renderer': 'svg', 'actions': False})
